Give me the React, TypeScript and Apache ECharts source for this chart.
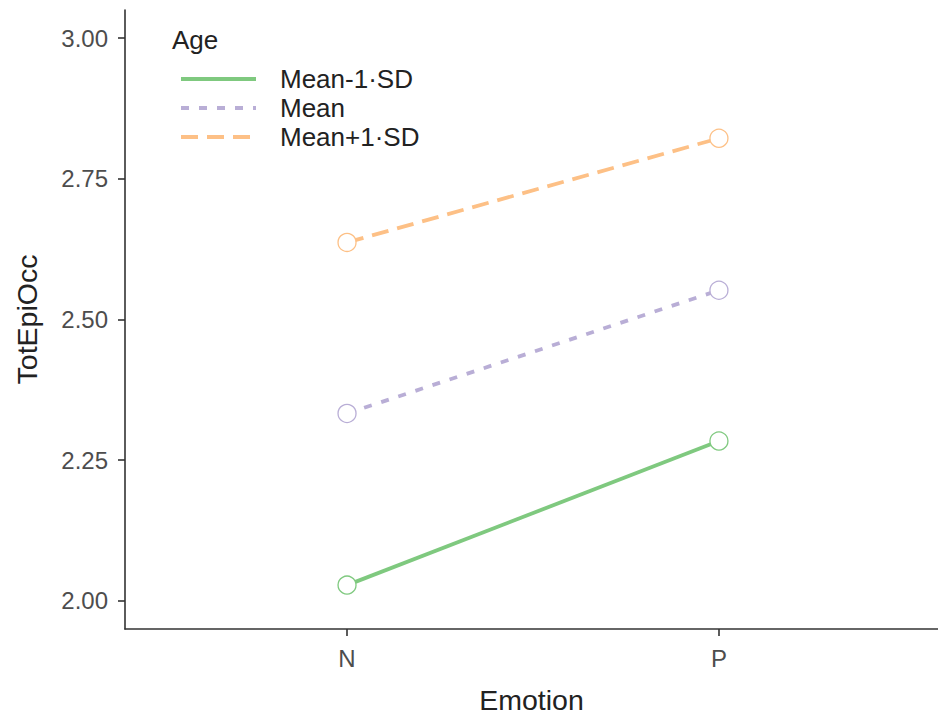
import React, { useEffect, useRef } from "react";
import * as echarts from "echarts";

const emotions = ["N", "P"];
const groupNames = ["Mean-1·SD", "Mean", "Mean+1·SD"];
const meanMinusSD = [2.028, 2.284];
const meanValues = [2.333, 2.552];
const meanPlusSD = [2.637, 2.822];
const yTicks = [2.0, 2.25, 2.5, 2.75, 3.0];
const xTicks = [1, 2];

const colors = ["#7fc97f", "#b9aed6", "#fdc086"];
const dashes: (number[] | "solid")[] = ["solid", [8, 10], [17, 9]];

export default function App() {
  const ref = useRef<HTMLDivElement>(null);
  useEffect(() => {
    if (!ref.current) return;
    const chart = echarts.init(ref.current, undefined, { renderer: "svg" });
    const allValues = [meanMinusSD, meanValues, meanPlusSD];
    const font = "Liberation Sans, Arial, sans-serif";
    const legendRows = [79, 108, 137];
    const graphic: any[] = [
      {
        type: "text",
        left: 172,
        top: 27,
        style: { text: "Age", fontSize: 26, fontFamily: font, fill: "#222" },
      },
    ];
    groupNames.forEach((n, i) => {
      graphic.push({
        type: "line",
        shape: { x1: 181, y1: legendRows[i], x2: 256, y2: legendRows[i] },
        style: {
          stroke: colors[i],
          lineWidth: 3.8,
          lineDash: dashes[i] === "solid" ? null : dashes[i],
        },
      });
      graphic.push({
        type: "text",
        x: 280,
        y: legendRows[i],
        style: {
          text: n,
          fontSize: 26,
          fontFamily: font,
          fill: "#222",
          verticalAlign: "middle",
        },
      });
    });
    chart.setOption({
      animation: false,
      backgroundColor: "#fff",
      textStyle: { fontFamily: font },
      grid: { left: 125, right: 0, top: 10, bottom: 89, outerBoundsMode: "none" },
      xAxis: {
        type: "value",
        min: 0.403,
        max: 2.589,
        name: "Emotion",
        nameLocation: "middle",
        nameGap: 56,
        nameTextStyle: { fontSize: 28.5, color: "#222", fontFamily: font },
        splitLine: { show: false },
        axisLine: { show: true, lineStyle: { color: "#333", width: 1.6 } },
        axisTick: { show: true, length: 7, customValues: xTicks, lineStyle: { color: "#333", width: 1.6 } },
        axisLabel: {
          customValues: xTicks,
          margin: 17,
          fontSize: 24,
          color: "#4d4d4d",
          fontFamily: font,
          formatter: (v: number) => emotions[Math.round(v) - 1] ?? "",
        },
      },
      yAxis: {
        type: "value",
        min: 1.95,
        max: 3.05,
        name: "TotEpiOcc",
        nameLocation: "middle",
        nameGap: 84,
        nameTextStyle: { fontSize: 28.5, color: "#222", fontFamily: font },
        splitLine: { show: false },
        axisLine: { show: true, lineStyle: { color: "#333", width: 1.6 } },
        axisTick: { show: true, length: 7, customValues: yTicks, lineStyle: { color: "#333", width: 1.6 } },
        axisLabel: {
          customValues: yTicks,
          margin: 17,
          fontSize: 24,
          color: "#4d4d4d",
          fontFamily: font,
          formatter: (v: number) => v.toFixed(2),
        },
      },
      series: groupNames.map((n, i) => ({
        name: n,
        type: "line",
        data: allValues[i].map((v, j) => [j + 1, v]),
        symbol: "circle",
        symbolSize: 18,
        itemStyle: { color: "#fff", borderColor: colors[i], borderWidth: 1.3 },
        lineStyle: {
          color: colors[i],
          width: 3.8,
          type: dashes[i],
          cap: "butt",
        },
        z: 3 - i,
      })),
      graphic,
    });
    return () => chart.dispose();
  }, []);
  return (
    <div
      ref={ref}
      style={{ position: "fixed", left: 0, top: 0, width: 938, height: 718 }}
    />
  );
}
